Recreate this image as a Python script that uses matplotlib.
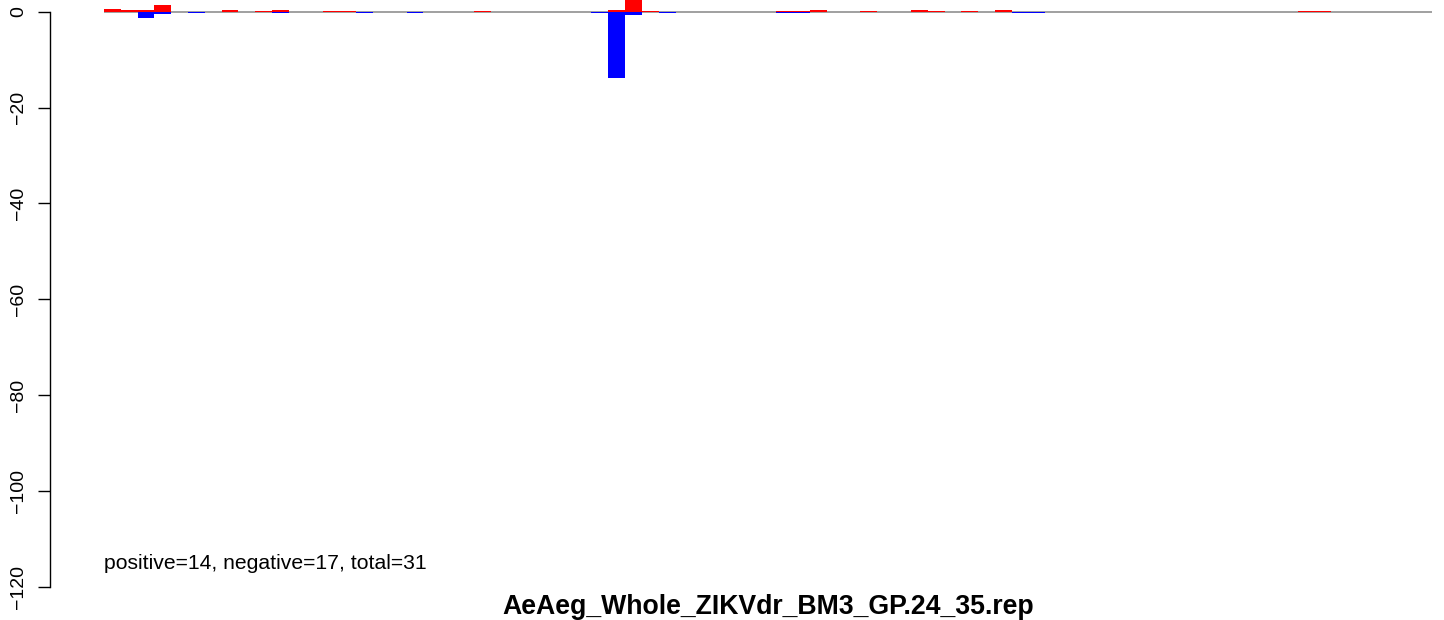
import matplotlib
matplotlib.use("Agg")
import numpy as np
import matplotlib.pyplot as plt

plt.rcParams["font.family"] = ["Liberation Sans", "DejaVu Sans"]

# 79 positions along the read; only non-zero positions are listed
n_pos = 79
pos_idx = [0, 1, 2, 3, 7, 9, 10, 13, 14, 22, 30, 31, 32, 40, 41, 42, 45, 48, 49, 51, 53, 71, 72]
pos_val = [0.55, 0.35, 0.35, 1.4, 0.35, 0.15, 0.35, 0.1, 0.1, 0.1, 0.35, 3.0, 0.15,
           0.15, 0.15, 0.35, 0.15, 0.35, 0.15, 0.15, 0.3, 0.15, 0.15]
neg_idx = [2, 3, 5, 10, 15, 18, 29, 30, 31, 33, 40, 41, 54, 55]
neg_val = [-1.3, -0.5, -0.2, -0.3, -0.2, -0.2, -0.2, -13.8, -0.7, -0.25, -0.25, -0.25, -0.25, -0.25]

title = "AeAeg_Whole_ZIKVdr_BM3_GP.24_35.rep"
summary = "positive=14, negative=17, total=31"
yticks = [0, -20, -40, -60, -80, -100, -120]

pos = np.zeros(n_pos)
neg = np.zeros(n_pos)
pos[pos_idx] = pos_val
neg[neg_idx] = neg_val

W, H = 1444, 620
fig = plt.figure(figsize=(W / 100, H / 100), dpi=100)
ax = fig.add_axes([104 / W, (H - 587) / H, (1432 - 104) / W, 587 / H])

x = np.arange(n_pos)
ax.hlines(0, 0, n_pos, color="#a0a0a0", lw=1.4, zorder=1)
ax.bar(x, pos, width=1.0, align="edge", color="#ff0000", lw=0, zorder=2)
ax.bar(x, neg, width=1.0, align="edge", color="#0000ff", lw=0, zorder=2)

ax.set_xlim(0, n_pos)
ax.set_ylim(-120, 11.7 / 4.8)

for s in ["top", "right", "bottom"]:
    ax.spines[s].set_visible(False)
ax.spines["left"].set_position(("outward", 54 * 0.72))
ax.spines["left"].set_bounds(-120, 0)
ax.spines["left"].set_linewidth(1.0)
ax.set_xticks([])
ax.set_yticks(yticks)
ax.set_yticklabels([str(v).replace("-", "\u2212") for v in yticks],
                   rotation=90, va="center", fontsize=14)
ax.tick_params(axis="y", length=8.6, width=1.0, pad=8)

ax.text(0, -115, summary, fontsize=15.2, va="center", ha="left")
fig.text(768 / W, 1 - 607 / H, title, fontsize=19.2, fontweight="bold",
         ha="center", va="center")

fig.savefig("out.png", dpi=100)
